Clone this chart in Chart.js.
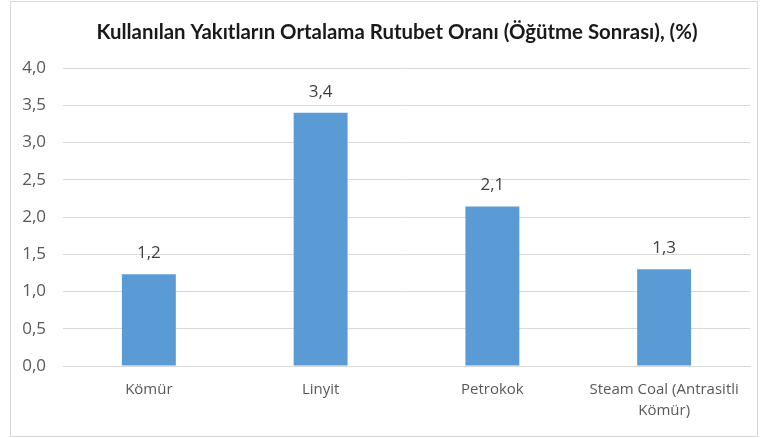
<!DOCTYPE html>
<html>
<head>
<meta charset="utf-8">
<script src="https://cdn.jsdelivr.net/npm/chart.js@4.4.1/dist/chart.umd.min.js"></script>
<style>
  body { margin: 0; background: #fff; }
  #wrap {
    position: absolute; left: 10px; top: 1px;
    width: 746px; height: 434px;
    border: 1px solid #d9d9d9;
  }
</style>
</head>
<body>
<div id="wrap"><canvas id="chart"></canvas></div>
<script>
// Chart data
const categories = ['Kömür', 'Linyit', 'Petrokok', ['Steam Coal (Antrasitli', 'Kömür)']];
const moisture = [1.23, 3.4, 2.14, 1.3];
const titleText = 'Kullanılan Yakıtların Ortalama Rutubet Oranı (Öğütme Sonrası), (%)';

const fmt = v => v.toFixed(1).replace('.', ',');

// Title, centred a little right of the canvas centre like the original
const chartTitle = {
    id: 'chartTitle',
    afterDraw(chart) {
        const ctx = chart.ctx;
        ctx.save();
        ctx.font = 'bold 20.4px Lato';
        ctx.fillStyle = '#1a1a1a';
        ctx.textAlign = 'center';
        ctx.textBaseline = 'middle';
        ctx.fillText(titleText, 386, 30);
        ctx.restore();
    }
};

// Draw value labels above each bar
const valueLabels = {
    id: 'valueLabels',
    afterDatasetsDraw(chart) {
        const ctx = chart.ctx;
        const meta = chart.getDatasetMeta(0);
        ctx.save();
        ctx.font = '17px "Open Sans"';
        ctx.fillStyle = '#404040';
        ctx.textAlign = 'center';
        ctx.textBaseline = 'middle';
        meta.data.forEach((bar, i) => {
            ctx.fillText(fmt(moisture[i]), bar.x, bar.y - 21);
        });
        ctx.restore();
    }
};

new Chart(document.getElementById('chart'), {
    type: 'bar',
    data: {
        labels: categories,
        datasets: [{
            data: moisture,
            backgroundColor: '#5b9bd5',
            categoryPercentage: 1,
            barPercentage: 0.314
        }]
    },
    options: {
        responsive: true,
        maintainAspectRatio: false,
        animation: false,
        layout: { padding: { left: 0, right: 7, top: 66, bottom: 0 } },
        plugins: {
            legend: { display: false },
            tooltip: { enabled: false }
        },
        scales: {
            y: {
                min: 0,
                max: 4,
                border: { display: false },
                grid: { color: '#d9d9d9', drawTicks: false },
                ticks: {
                    stepSize: 0.5,
                    color: '#595959',
                    font: { family: 'Open Sans', size: 17 },
                    padding: 17,
                    callback: v => fmt(v)
                },
                afterFit(scale) { scale.width = 52; }
            },
            x: {
                border: { color: '#d9d9d9' },
                grid: { display: false, drawTicks: false },
                ticks: {
                    color: '#595959',
                    font: { family: 'Open Sans', size: 15, lineHeight: 1.4 },
                    padding: 13,
                    maxRotation: 0
                },
                afterFit(scale) { scale.height = 70; }
            }
        }
    },
    plugins: [valueLabels, chartTitle]
});
</script>
</body>
</html>
